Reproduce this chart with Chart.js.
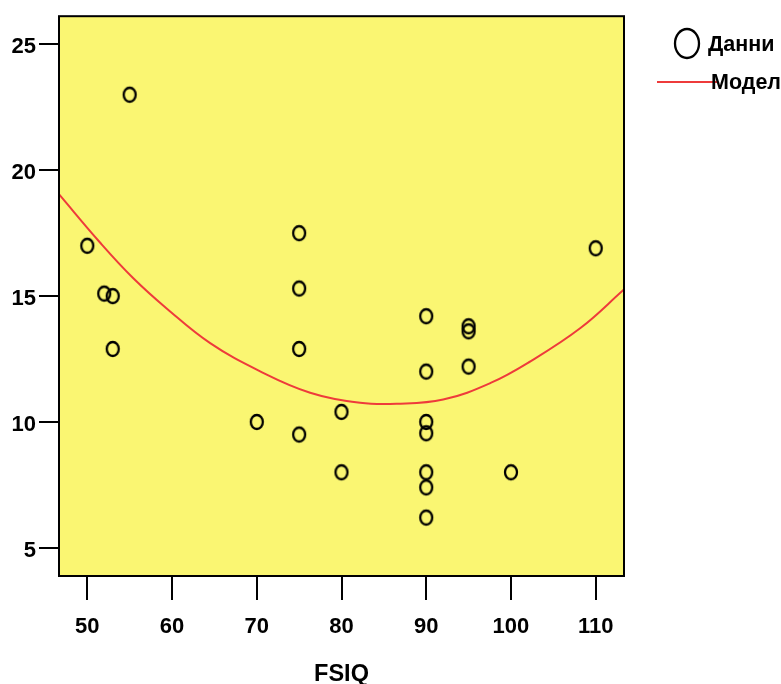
<!DOCTYPE html>
<html>
<head>
<meta charset="utf-8">
<script src="https://cdn.jsdelivr.net/npm/chart.js@4.4.1/dist/chart.umd.min.js"></script>
<style>
  html, body { margin: 0; padding: 0; background: #ffffff; }
  #wrap { width: 781px; height: 684px; }
</style>
</head>
<body>
<div id="wrap"><canvas id="c" width="781" height="684"></canvas></div>
<script>
// ---- data ----
const fsiq   = [55, 50, 52, 53, 53, 70, 75, 75, 75, 75, 80, 80, 90, 90, 90, 90, 90, 90, 90, 95, 95, 95, 100, 110];
const scores = [23.0, 17.0, 15.1, 15.0, 12.9, 10.0, 17.5, 15.3, 12.9, 9.5, 10.4, 8.0, 14.2, 12.0, 10.0, 9.55, 8.0, 7.4, 6.2, 13.8, 13.6, 12.2, 8.0, 16.9];
const modelX = [46.7, 51.5, 55.4, 59.4, 64.5, 70.4, 76.3, 82.2, 86.5, 92.0, 97.6, 102.3, 108.2, 113.3];
const modelY = [19.03, 17.13, 15.72, 14.50, 13.13, 12.01, 11.16, 10.76, 10.72, 10.89, 11.55, 12.41, 13.73, 15.25];
const xTicks = [50, 60, 70, 80, 90, 100, 110];
const yTicks = [5, 10, 15, 20, 25];
const xTitle = 'FSIQ';
const legendLabels = ['Данни', 'Модел'];

const FONT = "Arial, 'Liberation Sans', sans-serif";
const YELLOW = '#faf672';
const RED = '#ee3b3b';

// ellipse marker
function makeMarker() {
  const c = document.createElement('canvas');
  c.width = 18; c.height = 20;
  const g = c.getContext('2d');
  g.strokeStyle = '#000';
  g.lineWidth = 2.3;
  g.beginPath();
  g.ellipse(9, 10, 6, 7, 0, 0, Math.PI * 2);
  g.stroke();
  return c;
}
const marker = makeMarker();

const bgPlugin = {
  id: 'bg',
  beforeDatasetsDraw(chart) {
    const a = chart.chartArea, ctx = chart.ctx;
    ctx.save();
    ctx.fillStyle = YELLOW;
    ctx.fillRect(a.left, a.top, a.right - a.left, a.bottom - a.top);
    ctx.restore();
  },
  afterDatasetsDraw(chart) {
    const a = chart.chartArea, ctx = chart.ctx;
    ctx.save();
    ctx.strokeStyle = '#000';
    ctx.lineWidth = 2;
    ctx.strokeRect(a.left, a.top, a.right - a.left, a.bottom - a.top);
    ctx.restore();
  },
  afterDraw(chart) {
    const ctx = chart.ctx;
    ctx.save();
    // legend: data marker
    ctx.strokeStyle = '#000';
    ctx.lineWidth = 2.3;
    ctx.beginPath();
    ctx.ellipse(687, 43.5, 12, 14.5, 0, 0, Math.PI * 2);
    ctx.stroke();
    // legend: model line
    ctx.strokeStyle = RED;
    ctx.lineWidth = 2;
    ctx.beginPath();
    ctx.moveTo(657, 82);
    ctx.lineTo(717, 82);
    ctx.stroke();
    ctx.fillStyle = '#000';
    ctx.font = 'bold 21.5px ' + FONT;
    ctx.textAlign = 'left';
    ctx.textBaseline = 'middle';
    ctx.fillText(legendLabels[0], 708, 45.5);
    ctx.fillText(legendLabels[1], 711, 83.5);
    ctx.restore();
  }
};

new Chart(document.getElementById('c'), {
  type: 'scatter',
  data: {
    datasets: [
      {
        label: legendLabels[0],
        data: fsiq.map((x, i) => ({ x: x, y: scores[i] })),
        pointStyle: marker,
        pointRadius: 7,
        pointHoverRadius: 7,
        showLine: false,
        order: 1
      },
      {
        label: legendLabels[1],
        type: 'line',
        data: modelX.map((x, i) => ({ x: x, y: modelY[i] })),
        borderColor: RED,
        borderWidth: 2,
        pointRadius: 0,
        fill: false,
        tension: 0.4,
        order: 2
      }
    ]
  },
  options: {
    responsive: false,
    animation: false,
    events: [],
    layout: { padding: { top: 14, right: 157, left: 0, bottom: 0 } },
    plugins: {
      legend: { display: false },
      tooltip: { enabled: false },
      title: { display: false }
    },
    scales: {
      x: {
        type: 'linear',
        min: 46.66,
        max: 113.34,
        afterBuildTicks(scale) { scale.ticks = xTicks.map(v => ({ value: v })); },
        afterFit(scale) { scale.height = 108; },
        grid: {
          display: true, drawOnChartArea: false, drawTicks: true,
          tickLength: 24, tickWidth: 2, tickColor: '#000', color: '#000', lineWidth: 2
        },
        border: { display: false },
        ticks: {
          color: '#000', padding: 14, maxRotation: 0, autoSkip: false,
          font: { family: FONT, size: 22, weight: 'bold' }
        },
        title: {
          display: true, text: xTitle, color: '#000',
          padding: { top: 0, bottom: 0 },
          font: { family: FONT, size: 23.5, weight: 'bold', lineHeight: 0.8 }
        }
      },
      y: {
        type: 'linear',
        min: 3.88,
        max: 26.12,
        afterBuildTicks(scale) { scale.ticks = yTicks.map(v => ({ value: v })); },
        afterFit(scale) { scale.width = 59; },
        grid: {
          display: true, drawOnChartArea: false, drawTicks: true,
          tickLength: 20, tickWidth: 2, tickColor: '#000', color: '#000', lineWidth: 2
        },
        border: { display: false },
        ticks: {
          color: '#000', padding: 3, labelOffset: 3, autoSkip: false,
          font: { family: FONT, size: 22, weight: 'bold' }
        }
      }
    }
  },
  plugins: [bgPlugin]
});
</script>
</body>
</html>
